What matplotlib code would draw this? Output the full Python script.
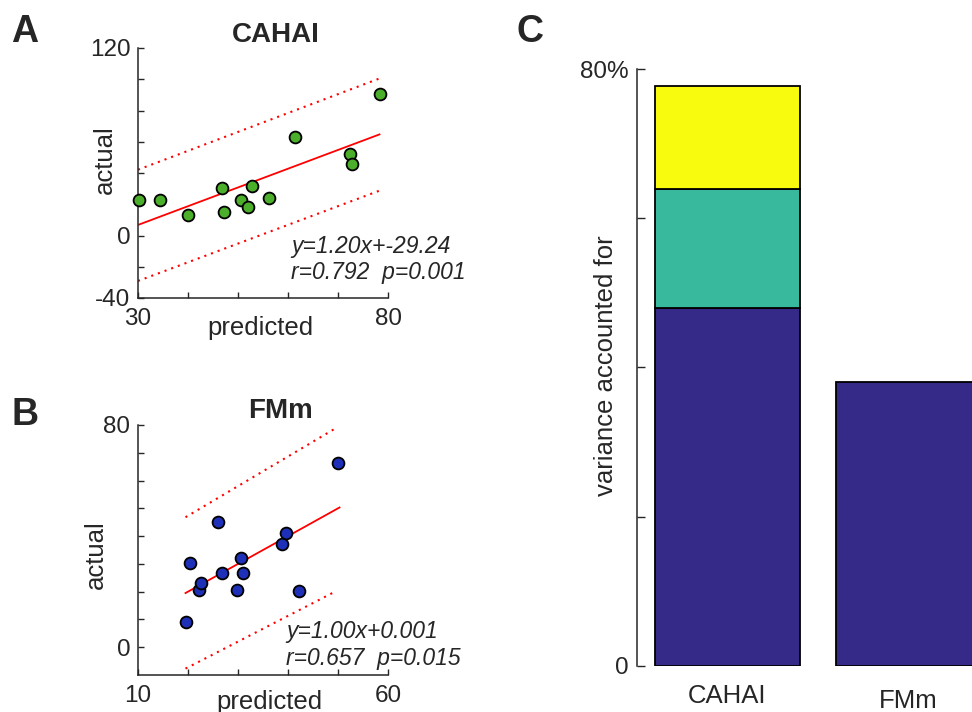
import matplotlib
matplotlib.use("Agg")
import matplotlib.pyplot as plt

plt.rcParams['font.family'] = ['Liberation Sans', 'DejaVu Sans']

# ---------------- data ----------------
# Panel A (CAHAI)
cahai_pred = [30.2, 34.3, 40.0, 46.8, 47.1, 50.5, 51.9, 52.8, 56.2, 61.4, 72.3, 72.7, 78.3]
cahai_act = [22.9, 22.9, 13.3, 30.2, 14.8, 22.9, 18.2, 31.4, 24.0, 62.9, 52.2, 46.0, 90.5]
cahai_fit_x = [30.0, 78.3]
cahai_fit_y = [6.76, 64.7]
cahai_upper_y = [42.1, 100.5]
cahai_lower_y = [-29.1, 28.7]
cahai_xticks = [30, 40, 50, 60, 70, 80]
cahai_xticklabels = ['30', '', '', '', '', '80']
cahai_yticks = [-40, -20, 0, 20, 40, 60, 80, 100, 120]
cahai_yticklabels = ['-40', '', '0', '', '', '', '', '', '120']
cahai_stats = ['y=1.20x+-29.24', 'r=0.792  p=0.001']

# Panel B (FMm)
fmm_pred = [19.5, 20.3, 22.1, 22.5, 26.0, 26.8, 29.7, 30.5, 31.0, 38.7, 39.5, 42.2, 50.0]
fmm_act = [9.2, 30.2, 20.6, 23.0, 45.2, 26.9, 20.7, 32.3, 26.9, 37.1, 41.0, 20.1, 66.2]
fmm_fit_x = [19.5, 50.3]
fmm_fit_y = [19.5, 50.3]
fmm_upper_x = [19.5, 49.5]
fmm_upper_y = [46.8, 78.8]
fmm_lower_x = [19.5, 49.3]
fmm_lower_y = [-7.7, 19.9]
fmm_xticks = [10, 20, 30, 40, 50, 60]
fmm_xticklabels = ['10', '', '', '', '', '60']
fmm_yticks = [0, 10, 20, 30, 40, 50, 60, 70, 80]
fmm_yticklabels = ['0', '', '', '', '', '', '', '', '80']
fmm_stats = ['y=1.00x+0.001', 'r=0.657  p=0.015']

# Panel C (variance accounted for, %)
categories = ['CAHAI', 'FMm']
var_seg1 = [48.0, 38.0]
var_seg2 = [15.9, 0.0]
var_seg3 = [13.8, 0.0]
c_yticks = [0, 20, 40, 60, 80]
c_yticklabels = ['0', '', '', '', '80%']

# ---------------- layout helpers ----------------
W, H = 972, 712
def fx(px):
    return px / W
def fy(py):
    return 1 - py / H
def box(l, t, w, h):
    return [l / W, 1 - (t + h) / H, w / W, h / H]

TXT = '#262626'
RED = '#FF0000'
DOT = (0, (1, 2.4))

fig = plt.figure(figsize=(9.72, 7.12), dpi=100)

def style_axes(ax, xpad=7, ypad=5.5, ticklen=4):
    for s in ('top', 'right'):
        ax.spines[s].set_visible(False)
    for s in ('left', 'bottom'):
        ax.spines[s].set_color(TXT)
        ax.spines[s].set_linewidth(1.1)
    ax.tick_params(direction='in', length=ticklen, width=1.0, colors=TXT,
                   labelsize=17.5)
    ax.tick_params(axis='x', pad=xpad)
    ax.tick_params(axis='y', pad=ypad)

# ---------------- Panel A ----------------
axA = fig.add_axes(box(138, 48, 250, 250))
axA.set_xlim(30, 80)
axA.set_ylim(-40, 120)
axA.plot(cahai_fit_x, cahai_upper_y, color=RED, lw=1.5, ls=DOT)
axA.plot(cahai_fit_x, cahai_lower_y, color=RED, lw=1.5, ls=DOT)
axA.plot(cahai_fit_x, cahai_fit_y, color=RED, lw=1.3)
axA.plot(cahai_pred, cahai_act, ls='none', marker='o', ms=8.5,
         mfc='#4CAF2C', mec='black', mew=1.3, clip_on=False, zorder=3)
axA.set_xticks(cahai_xticks, cahai_xticklabels)
axA.set_yticks(cahai_yticks, cahai_yticklabels)
style_axes(axA)

# ---------------- Panel B ----------------
axB = fig.add_axes(box(138, 425, 250, 250))
axB.set_xlim(10, 60)
axB.set_ylim(-10, 80)
axB.plot(fmm_upper_x, fmm_upper_y, color=RED, lw=1.5, ls=DOT)
axB.plot(fmm_lower_x, fmm_lower_y, color=RED, lw=1.5, ls=DOT)
axB.plot(fmm_fit_x, fmm_fit_y, color=RED, lw=1.3)
axB.plot(fmm_pred, fmm_act, ls='none', marker='o', ms=8.5,
         mfc='#1E30B8', mec='black', mew=1.3, clip_on=False, zorder=3)
axB.set_xticks(fmm_xticks, fmm_xticklabels)
axB.set_yticks(fmm_yticks, fmm_yticklabels)
style_axes(axB)

# ---------------- Panel C ----------------
axC = fig.add_axes(box(637.3, 69.3, 360.8, 596.4))
xpos = [1, 2]
axC.bar(xpos, var_seg1, width=0.8, color='#352A87', edgecolor='black', lw=1.3)
bottom2 = var_seg1
sel = [i for i in range(len(xpos)) if var_seg2[i] > 0]
axC.bar([xpos[i] for i in sel], [var_seg2[i] for i in sel],
        bottom=[bottom2[i] for i in sel], width=0.8,
        color='#38B99E', edgecolor='black', lw=1.3)
bottom3 = [var_seg1[i] + var_seg2[i] for i in range(len(xpos))]
sel = [i for i in range(len(xpos)) if var_seg3[i] > 0]
axC.bar([xpos[i] for i in sel], [var_seg3[i] for i in sel],
        bottom=[bottom3[i] for i in sel], width=0.8,
        color='#F9FB0E', edgecolor='black', lw=1.3)
axC.set_xlim(0.5, 2.5)
axC.set_ylim(0, 80)
axC.set_yticks(c_yticks, c_yticklabels)
axC.set_xticks(xpos, categories)
style_axes(axC, ticklen=6)
axC.spines['bottom'].set_visible(False)
axC.tick_params(axis='x', length=0, pad=13.5, labelsize=18.5)
axC.tick_params(axis='y', labelsize=17.5, pad=6)
axC.get_xticklabels()[1].set_y(-5 / 596.4)

# ---------------- texts ----------------
# panel letters
for s, x, y in (('A', 25, 42), ('B', 25, 425), ('C', 529.5, 42)):
    fig.text(fx(x), fy(y), s, ha='center', va='baseline', fontsize=27,
             fontweight='bold', color=TXT)
# titles
fig.text(fx(276), fy(41.7), 'CAHAI', ha='center', va='baseline',
         fontsize=20, fontweight='bold', color=TXT)
fig.text(fx(281), fy(418.3), 'FMm', ha='center', va='baseline',
         fontsize=20, fontweight='bold', color=TXT)
# axis labels
fig.text(fx(260), fy(335), 'predicted', ha='center', va='baseline',
         fontsize=18.5, color=TXT)
fig.text(fx(269), fy(708.5), 'predicted', ha='center', va='baseline',
         fontsize=18.5, color=TXT)
fig.text(fx(111.7), fy(159.2), 'actual', ha='center', va='baseline',
         rotation=90, rotation_mode='anchor', fontsize=18.5, color=TXT)
fig.text(fx(103.3), fy(554.2), 'actual', ha='center', va='baseline',
         rotation=90, rotation_mode='anchor', fontsize=18.5, color=TXT)
fig.text(fx(613.3), fy(365.5), 'variance accounted for', ha='center',
         va='baseline', rotation=90, rotation_mode='anchor', fontsize=18.5,
         color=TXT)
# stats annotations
for s, y in zip(cahai_stats, (253.3, 279.3)):
    fig.text(fx(291), fy(y), s, ha='left', va='baseline', fontsize=16.5,
             style='italic', color=TXT)
for s, y in zip(fmm_stats, (638.3, 665.0)):
    fig.text(fx(286), fy(y), s, ha='left', va='baseline', fontsize=16.5,
             style='italic', color=TXT)

fig.savefig('out.png', dpi=100)
